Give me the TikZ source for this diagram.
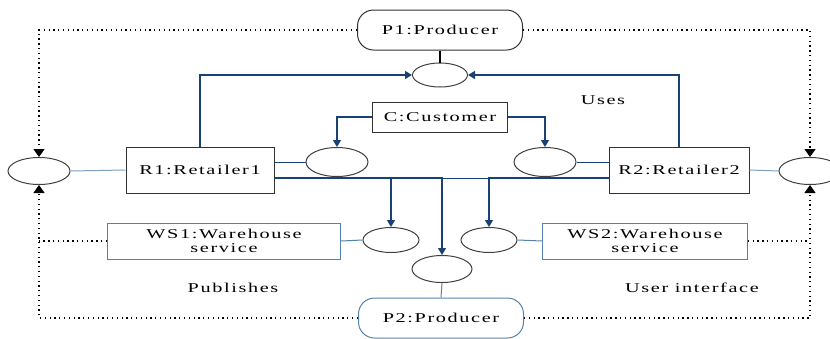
\documentclass[tikz,border=0pt]{standalone}
\usepackage{fontspec}
\setmainfont{Liberation Serif}[FakeStretch=1.5,LetterSpace=12]
\usetikzlibrary{shapes.geometric}
\usetikzlibrary{arrows.meta}
\definecolor{navyln}{RGB}{25,65,115}
\definecolor{paleln}{RGB}{125,160,190}
\definecolor{steelln}{RGB}{85,130,170}

\begin{document}
\begin{tikzpicture}[x=1pt,y=-1pt,font=\fontsize{13.5}{14}\selectfont,
	comp/.style={draw=black!80,line width=1pt,minimum height=46pt},
	wsbox/.style={draw=steelln,line width=1pt,minimum height=36pt,align=center,text width=#1pt,inner ysep=1pt},
	prod/.style={draw=#1,line width=1pt,rounded corners=16pt,minimum width=165pt,minimum height=40pt},
	iface/.style={draw=black!75,line width=1pt,ellipse,minimum width=#1pt,minimum height=27pt,inner sep=0pt},
	link/.style={draw=navyln,line width=1pt},
	uses/.style={draw=navyln,line width=1.3pt,-{Triangle[width=8pt,length=7pt]}},
	pub/.style={draw=black,line width=1.3pt,dash pattern=on 1.3pt off 3.5pt,-{Triangle[width=11pt,length=8pt]}}]
	\useasboundingbox (0,0) rectangle (830,338);
	% components
	\node[prod=black!80] (p1) at (440,30) {P1:Producer};
	\node[prod=steelln] (p2) at (441,318) {P2:Producer};
	\node[comp,minimum width=148pt] (r1) at (200,170) {R1:Retailer1};
	\node[comp,minimum width=140pt] (r2) at (679,170) {R2:Retailer2};
	\node[comp,minimum width=135pt,minimum height=30pt] (c) at (440,117) {C:Customer};
	\node[wsbox=226] (ws1) at (224,241) {WS1:Warehouse\\service};
	\node[wsbox=198] (ws2) at (645,241) {WS2:Warehouse\\service};
	% interfaces
	\node[iface=55,minimum height=24pt] (ip1) at (440,75) {};
	\node[iface=62] (il) at (39,171) {};
	\node[iface=62] (ir) at (810,171) {};
	\node[iface=62,minimum height=29pt] (ir1) at (337,162) {};
	\node[iface=62,minimum height=29pt] (ir2) at (545,162) {};
	\node[iface=56,minimum height=25pt] (iw1) at (391,240) {};
	\node[iface=56,minimum height=25pt] (iw2) at (489,240) {};
	\node[iface=60] (ip2) at (442,269) {};
	% labels
	\node (uses) at (603,100) {Uses};
	\node (publ) at (233,288) {Publishes};
	\node (ui) at (692,288) {User interface};
	% provided interfaces
	\draw[line width=1.8pt] (p1.south) -- (ip1.north);
	\draw[draw=steelln,line width=1pt] (p2.north) -- (ip2.south);
	\draw[draw=paleln,line width=1pt] (il.east) -- (r1.west);
	\draw[draw=paleln,line width=1pt] (r2.east) -- (ir.west);
	\draw[link] (ir1.west) -- (ir1.west -| r1.east);
	\draw[link] (ir2.east) -- (ir2.east -| r2.west);
	\draw[draw=steelln,line width=1pt] (ws1.east) -- (iw1.west);
	\draw[draw=steelln,line width=1pt] (iw2.east) -- (ws2.west);
	% uses
	\draw[uses] (r1.north) |- (ip1.west);
	\draw[uses] (r2.north) |- (ip1.east);
	\draw[uses] (c.west) -| (ir1.north);
	\draw[uses] (c.east) -| (ir2.north);
	\draw[uses] ([yshift=-8pt]r1.east) -| (iw1.north);
	\draw[uses] ([yshift=-8pt]r1.east) -| (ip2.north);
	\draw[uses] ([yshift=-8pt]r2.west) -| (iw2.north);
	\draw[link] ([yshift=-8pt]r2.west) -- ([yshift=-8pt]r1.east);
	% publishes
	\draw[pub] (p1.west) -| (il.north);
	\draw[pub] (p1.east) -| (ir.north);
	\draw[pub] (p2.west) -| (il.south);
	\draw[pub] (p2.east) -| (ir.south);
	\draw[pub,-] (ws1.west) -- (ws1.west -| il);
	\draw[pub,-] (ws2.east) -- (ws2.east -| ir);
\end{tikzpicture}
\end{document}
